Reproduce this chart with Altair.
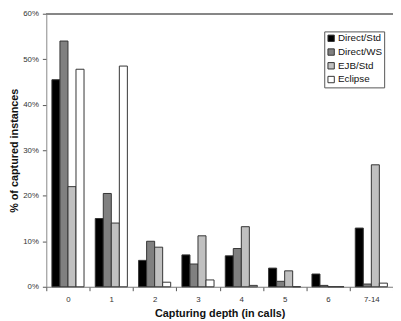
import altair as alt
import pandas as pd

categories = ["0", "1", "2", "3", "4", "5", "6", "7-14"]
series = ["Direct/Std", "Direct/WS", "EJB/Std", "Eclipse"]
direct_std = [45.5, 15.0, 5.8, 7.0, 6.8, 4.1, 2.8, 12.9]
direct_ws = [54.0, 20.5, 10.0, 5.0, 8.4, 1.2, 0.3, 0.6]
ejb_std = [22.0, 14.0, 8.7, 11.2, 13.2, 3.5, 0.0, 26.8]
eclipse = [47.8, 48.5, 1.0, 1.5, 0.3, 0.0, 0.0, 0.8]
colors = ["#000000", "#808080", "#c0c0c0", "#ffffff"]

rows = []
for s, vals in zip(series, [direct_std, direct_ws, ejb_std, eclipse]):
    for c, v in zip(categories, vals):
        rows.append({"depth": c, "series": s, "value": v})
df = pd.DataFrame(rows)

font = "Liberation Sans"

bars = alt.Chart(df).mark_bar(stroke="#333333", strokeWidth=1).encode(
    x=alt.X("depth:N", sort=categories,
            scale=alt.Scale(paddingInner=0, paddingOuter=0),
            axis=alt.Axis(title="Capturing depth (in calls)", labelAngle=0,
                          tickBand="extent", tickSize=4, tickColor="#555",
                          domainColor="#777", labelFontSize=8, labelColor="#333",
                          labelPadding=5, labelFont=font,
                          titleFont=font, titleFontSize=11, titleFontWeight="bold",
                          titleColor="#111", titleY=27, titleBaseline="middle")),
    xOffset=alt.XOffset("series:N", sort=series,
                        scale=alt.Scale(paddingInner=0, paddingOuter=0.7)),
    y=alt.Y("value:Q", scale=alt.Scale(domain=[0, 60], nice=False),
            axis=alt.Axis(values=[0, 10, 20, 30, 40, 50, 60],
                          labelExpr="datum.value + '%'", grid=False,
                          tickSize=4, tickColor="#555", domainColor="#888",
                          labelFontSize=8, labelColor="#333", labelPadding=4,
                          labelFont=font, title="% of captured instances",
                          titleFont=font, titleFontSize=11, titleFontWeight="bold",
                          titleColor="#111", titleX=-32, titleY=139,
                          titleBaseline="middle", titleAlign="center", titleAngle=270)),
    color=alt.Color("series:N", sort=series,
                    scale=alt.Scale(domain=series, range=colors),
                    legend=alt.Legend(title=None, orient="none", legendX=283, legendY=18,
                                      symbolType="square", symbolSize=42,
                                      symbolStrokeColor="#333", symbolStrokeWidth=1,
                                      labelFontSize=10, labelFont=font, labelColor="#111",
                                      labelOffset=2, rowPadding=2, padding=2,
                                      strokeColor="#555", fillColor="white")),
)

top = alt.Chart(df).mark_rule(color="#888888", strokeWidth=1).encode(
    y=alt.datum(60)
)

chart = alt.layer(bars, top).properties(
    width=353, height=278,
    autosize=alt.AutoSizeParams(type="none"),
    padding={"left": 39, "top": 3, "right": 0, "bottom": 31},
).configure_view(stroke=None)

chart.save("out.html", embed_options={"renderer": "svg", "actions": False})
